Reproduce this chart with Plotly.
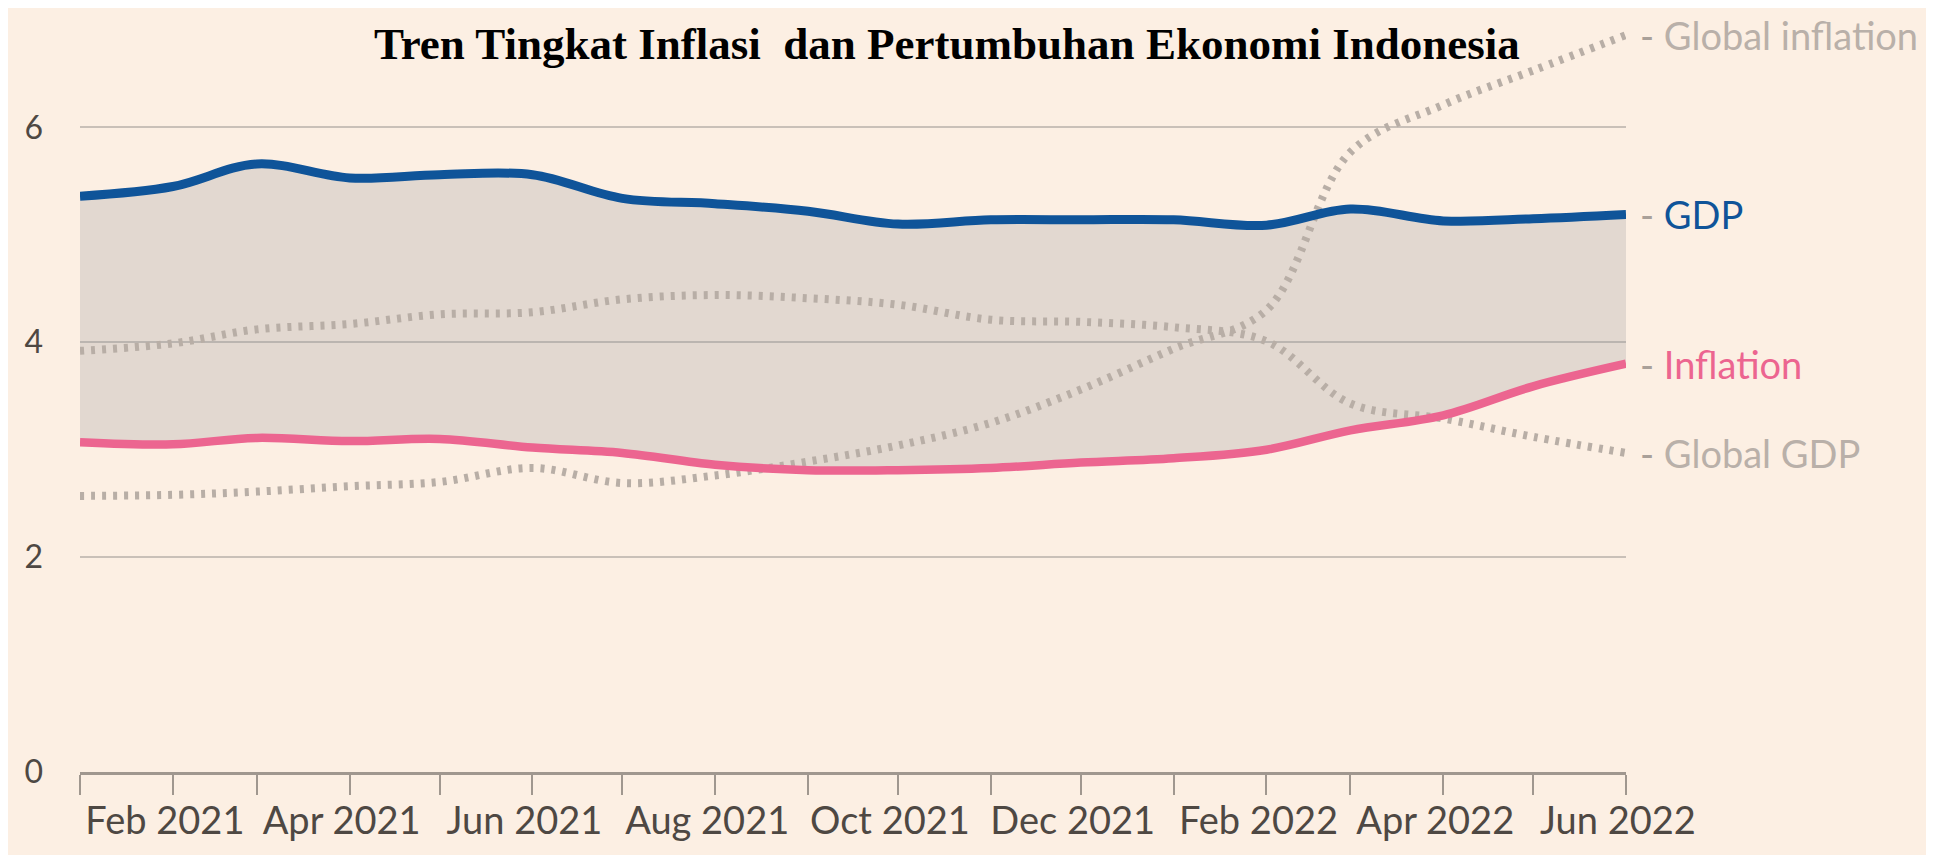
import plotly.graph_objects as go

# ---- data ----
months = ["2021-01-01", "2021-02-01", "2021-03-01", "2021-04-01", "2021-05-01", "2021-06-01",
          "2021-07-01", "2021-08-01", "2021-09-01", "2021-10-01", "2021-11-01", "2021-12-01",
          "2022-01-01", "2022-02-01", "2022-03-01", "2022-04-01", "2022-05-01", "2022-06-01"]
gdp = [5.36, 5.45, 5.66, 5.53, 5.56, 5.56, 5.34, 5.29, 5.22, 5.10, 5.14, 5.14,
       5.14, 5.09, 5.24, 5.13, 5.15, 5.19]
inflation = [3.07, 3.05, 3.11, 3.08, 3.10, 3.02, 2.97, 2.86, 2.81, 2.81, 2.83, 2.88,
             2.92, 3.00, 3.18, 3.32, 3.59, 3.80]
global_gdp = [3.92, 3.99, 4.12, 4.17, 4.26, 4.28, 4.40, 4.44, 4.41, 4.35, 4.21, 4.19,
              4.14, 4.01, 3.43, 3.29, 3.12, 2.97]
global_inflation = [2.57, 2.58, 2.61, 2.66, 2.70, 2.83, 2.69, 2.76, 2.89, 3.04, 3.25, 3.56,
                    3.94, 4.30, 5.77, 6.21, 6.53, 6.86]
tick_labels = ["", "Feb 2021", "", "Apr 2021", "", "Jun 2021", "", "Aug 2021", "", "Oct 2021",
               "", "Dec 2021", "", "Feb 2022", "", "Apr 2022", "", "Jun 2022"]
y_ticks = [0, 2, 4, 6]
title_text = "Tren Tingkat Inflasi\u00a0 dan Pertumbuhan Ekonomi Indonesia"

# ---- style ----
BG = "#fcefe3"
BLUE = "#0f5499"
PINK = "#ec6590"
GREY_LINE = "#b8aea6"
GREY_TEXT = "#b9b0a9"
DASH_COL = "#a9a099"
AXIS_COL = "#a0978f"
TICK_TXT = "#4e4843"
FONT = "Lato"

# the page body adds an 8px margin, so the figure is 8px smaller than the window
W, H = 1926, 847
ML, MR, MT, MB = 72, 308, 12, 83
PW, PH = W - ML - MR, H - MT - MB


def px_x(p):
    return (p - ML) / PW


def px_y(p):
    return (H - MB - p) / PH


fig = go.Figure()

# fill between inflation and GDP
fig.add_trace(go.Scatter(x=months, y=inflation, mode="lines", line=dict(width=0, shape="spline"),
                         hoverinfo="skip", showlegend=False))
fig.add_trace(go.Scatter(x=months, y=gdp, mode="lines", line=dict(width=0, shape="spline"),
                         fill="tonexty", fillcolor="rgba(148,147,151,0.25)",
                         hoverinfo="skip", showlegend=False))

# global dotted lines
for vals in (global_gdp, global_inflation):
    fig.add_trace(go.Scatter(x=months, y=vals, mode="lines",
                             line=dict(color=GREY_LINE, width=8, dash="4px,7px", shape="spline"),
                             showlegend=False))

# main lines
fig.add_trace(go.Scatter(x=months, y=inflation, mode="lines",
                         line=dict(color=PINK, width=8.5, shape="spline"), showlegend=False))
fig.add_trace(go.Scatter(x=months, y=gdp, mode="lines",
                         line=dict(color=BLUE, width=9, shape="spline"), showlegend=False))

# right-hand labels
labels = [("Global inflation", global_inflation[-1], GREY_TEXT),
          ("GDP", gdp[-1], BLUE),
          ("Inflation", inflation[-1], PINK),
          ("Global GDP", global_gdp[-1], GREY_TEXT)]
annotations = []
for text, yv, col in labels:
    annotations.append(dict(
        x=months[-1], y=yv, xref="x", yref="y", xanchor="left", yanchor="middle",
        xshift=12, showarrow=False,
        text=f"<span style='color:{DASH_COL}'>-</span> {text}",
        font=dict(family=FONT, size=38, color=col)))

annotations.append(dict(
    x=px_x(938.7), y=px_y(36), xref="paper", yref="paper", xanchor="center", yanchor="middle",
    showarrow=False, text=f"<b>{title_text}</b>",
    font=dict(family="Liberation Serif", size=45, color="#000000")))

fig.update_layout(
    template="none",
    width=W, height=H,
    margin=dict(l=ML, r=MR, t=MT, b=MB, pad=0),
    paper_bgcolor=BG,
    plot_bgcolor="rgba(0,0,0,0)",
    showlegend=False,
    annotations=annotations,
    xaxis=dict(type="date", range=[months[0], months[-1]], tickvals=months, ticktext=tick_labels,
               ticks="outside", ticklen=20, tickwidth=2, tickcolor=AXIS_COL,
               showline=True, linecolor=AXIS_COL, linewidth=2.5, showgrid=False, zeroline=False,
               tickfont=dict(family=FONT, size=38, color=TICK_TXT), ticklabelshift=-8,
               ticklabelstandoff=-6, automargin=False),
    yaxis=dict(range=[0, 7], tickvals=y_ticks, ticktext=[str(v) for v in y_ticks],
               showgrid=True, gridcolor="#c9c0b8", gridwidth=1.5, zeroline=False, showline=False,
               ticks="", tickfont=dict(family=FONT, size=32, color=TICK_TXT),
               ticklabelstandoff=36, automargin=False),
)

fig.write_html("out.html")
